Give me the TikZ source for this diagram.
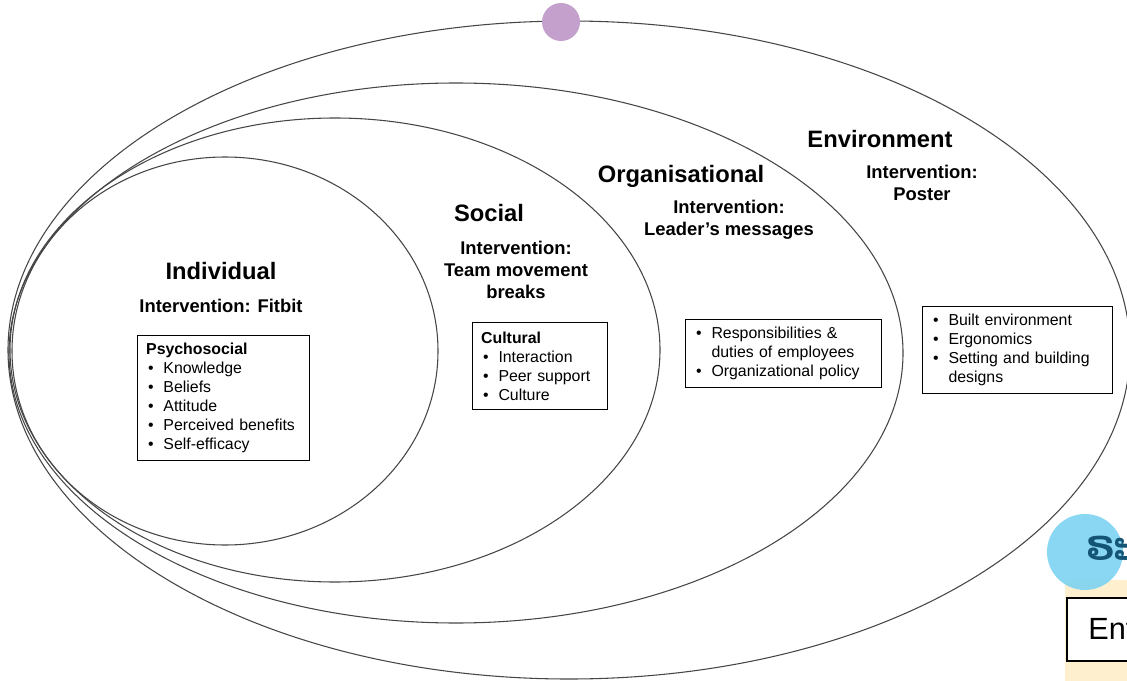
\documentclass[tikz,border=0pt]{standalone}
\usepackage{fontspec}
\setmainfont{Liberation Sans}
\newfontfamily\laofont[Script=Lao]{Dhyana}
\definecolor{ringline}{RGB}{70,70,70}
\definecolor{dotpurple}{RGB}{196,160,204}
\definecolor{dotblue}{RGB}{125,211,242}
\definecolor{laoblue}{RGB}{20,84,116}
\definecolor{tabbeige}{RGB}{254,240,206}
\newcommand\bitem[1]{\hspace*{1.5pt}\makebox[11.5pt][l]{\textbullet}#1}
\tikzset{
  ring/.style={draw=ringline, line width=0.8pt},
  title/.style={font=\bfseries\fontsize{17.8}{21}\selectfont},
  interv/.style={font=\bfseries\fontsize{13.8}{16.5}\selectfont, align=center},
  listbox/.style={draw, line width=0.75pt, anchor=north west, align=left,
    font=\fontsize{11.9}{14.25}\selectfont, inner xsep=6.5pt, inner ysep=0pt},
}
\begin{document}
\begin{tikzpicture}[x=0.75pt, y=-0.75pt]
    \useasboundingbox (0,0) rectangle (1127,681);
    % nested levels
    \draw[ring] (569,350) ellipse [x radius=561, y radius=329];
    \draw[ring] (456,353) ellipse [x radius=447, y radius=270];
    \draw[ring] (335,350) ellipse [x radius=325, y radius=232];
    \draw[ring] (225,351) ellipse [x radius=213, y radius=194];
    \fill[dotpurple] (561,22) circle [radius=19];
    % individual
    \node[title] (indiv) at (221,271) {Individual};
    \node[interv] (indivInt) at (221,306) {Intervention: Fitbit};
    \node[listbox, text width=116pt, minimum height=93.75pt] (psychoBox) at (137,335)
      {\textbf{Psychosocial}\\ \bitem{Knowledge}\\ \bitem{Beliefs}\\ \bitem{Attitude}\\
       \bitem{Perceived benefits}\\ \bitem{Self-efficacy}};
    % social
    \node[title] (social) at (489,213) {Social};
    \node[interv] (socialInt) at (516,270) {Intervention:\\Team movement\\breaks};
    \node[listbox, text width=88.25pt, minimum height=65.25pt] (cultBox) at (472,322)
      {\textbf{Cultural}\\ \bitem{Interaction}\\ \bitem{Peer support}\\ \bitem{Culture}};
    % organisational
    \node[title] (org) at (681,176) {Organisational};
    \node[interv] (orgInt) at (729,220) {Intervention:\\Leader’s messages};
    \node[listbox, text width=134pt, minimum height=51pt] (orgBox) at (685,319)
      {\bitem{Responsibilities \&}\\ \hspace*{13pt}duties of employees\\ \bitem{Organizational policy}};
    % environment
    \node[title] (env) at (880,139) {Environment};
    \node[interv] (envInt) at (922,183) {Intervention:\\Poster};
    \node[listbox, text width=129.5pt, minimum height=65.25pt] (envBox) at (922,306)
      {\bitem{Built environment}\\ \bitem{Ergonomics}\\ \bitem{Setting and building}\\ \hspace*{13pt}designs};
    % corner overlay
    \fill[tabbeige] (1065,580) rectangle (1140,690);
    \fill[dotblue, fill opacity=0.9] (1085,552) circle [radius=38];
    \node[anchor=west, inner sep=0pt, text=laoblue, font=\laofont\bfseries\fontsize{32}{36}\selectfont] (laoTxt) at (1086,548) {ຣະ};
    \node[draw, line width=1.6pt, fill=white, anchor=north west, minimum width=150pt,
      minimum height=47pt, text width=120pt, align=left, inner xsep=16pt,
      font=\fontsize{23}{27}\selectfont] (entBox) at (1066,597) {Ent};
\end{tikzpicture}
\end{document}
